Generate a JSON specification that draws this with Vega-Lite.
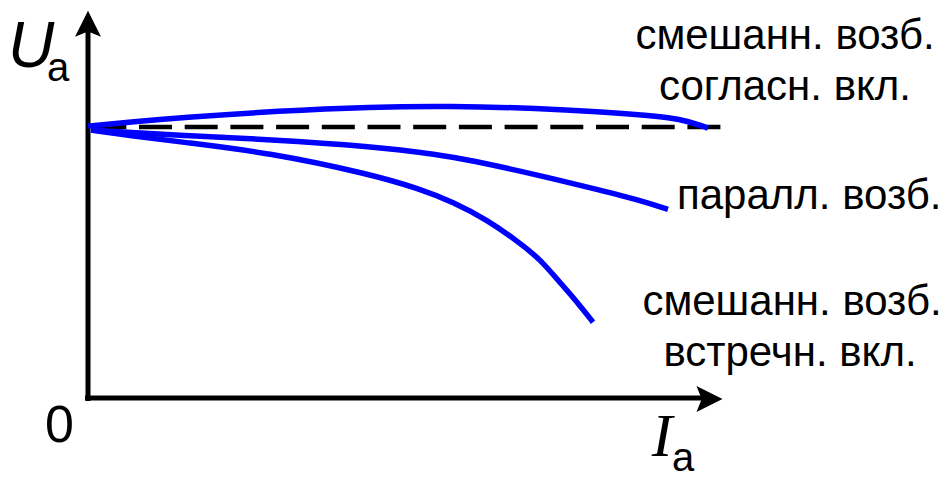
{
  "$schema": "https://vega.github.io/schema/vega-lite/v6.json",
  "width": 947,
  "height": 479,
  "autosize": {"type": "fit", "contains": "padding"},
  "padding": 0,
  "background": "white",
  "config": {"view": {"stroke": null}},
  "datasets": {
    "curves": [
      {"series": "согласн", "I": 0, "U": 276},
      {"series": "согласн", "I": 42, "U": 280},
      {"series": "согласн", "I": 92, "U": 284.5},
      {"series": "согласн", "I": 192, "U": 291.5},
      {"series": "согласн", "I": 282, "U": 295.5},
      {"series": "согласн", "I": 362, "U": 296.5},
      {"series": "согласн", "I": 452, "U": 294},
      {"series": "согласн", "I": 512, "U": 290.5},
      {"series": "согласн", "I": 552, "U": 287.5},
      {"series": "согласн", "I": 582, "U": 284.5},
      {"series": "согласн", "I": 600, "U": 281},
      {"series": "согласн", "I": 620, "U": 274},
      {"series": "паралл", "I": 3, "U": 272},
      {"series": "паралл", "I": 92, "U": 266.5},
      {"series": "паралл", "I": 182, "U": 262.5},
      {"series": "паралл", "I": 282, "U": 255.7},
      {"series": "паралл", "I": 352, "U": 247},
      {"series": "паралл", "I": 382, "U": 241.5},
      {"series": "паралл", "I": 452, "U": 226},
      {"series": "паралл", "I": 512, "U": 211},
      {"series": "паралл", "I": 552, "U": 200.7},
      {"series": "паралл", "I": 580, "U": 191.5},
      {"series": "встречн", "I": 3, "U": 272},
      {"series": "встречн", "I": 42, "U": 266.5},
      {"series": "встречн", "I": 92, "U": 260},
      {"series": "встречн", "I": 182, "U": 249},
      {"series": "встречн", "I": 282, "U": 227.3},
      {"series": "встречн", "I": 332, "U": 212.3},
      {"series": "встречн", "I": 365, "U": 199},
      {"series": "встречн", "I": 399, "U": 181},
      {"series": "встречн", "I": 432, "U": 157.3},
      {"series": "встречн", "I": 452, "U": 141},
      {"series": "встречн", "I": 472, "U": 117.3},
      {"series": "встречн", "I": 492, "U": 94},
      {"series": "встречн", "I": 505, "U": 77}
    ],
    "nominal": [
      {"I": 0, "U": 275},
      {"I": 633, "U": 275}
    ],
    "axes": [
      {"axis": "I", "I": -3, "U": 0},
      {"axis": "I", "I": 617, "U": 0},
      {"axis": "U", "I": 0, "U": -3},
      {"axis": "U", "I": 0, "U": 378}
    ],
    "labels": [
      {"text": "смешанн. возб.", "I": 697, "U": 354.7},
      {"text": "согласн. вкл.", "I": 697, "U": 302.3},
      {"text": "смешанн. возб.", "I": 704, "U": 84},
      {"text": "встречн. вкл.", "I": 702, "U": 32.3}
    ]
  },
  "encoding": {
    "x": {"field": "I", "type": "quantitative", "axis": null,
          "scale": {"domain": [-88, 859], "nice": false, "zero": false}},
    "y": {"field": "U", "type": "quantitative", "axis": null,
          "scale": {"domain": [-75, 404], "nice": false, "zero": false}}
  },
  "layer": [
    {
      "data": {"name": "nominal"},
      "mark": {"type": "line", "color": "black", "strokeWidth": 4.5,
               "strokeDash": [33, 12.7], "strokeDashOffset": 40.4, "strokeCap": "butt"},
      "encoding": {}
    },
    {
      "data": {"name": "axes"},
      "mark": {"type": "line", "color": "black", "strokeWidth": 5, "strokeCap": "butt"},
      "encoding": {"detail": {"field": "axis", "type": "nominal"}}
    },
    {
      "data": {"values": [{"I": 0, "U": 380}]},
      "mark": {"type": "point", "shape": "M0,-1L1,1L0,0.6L-1,1Z", "size": 676,
               "filled": true, "color": "black", "opacity": 1, "strokeWidth": 0}
    },
    {
      "data": {"values": [{"I": 621.5, "U": -1}]},
      "mark": {"type": "point", "shape": "M1,0L-1,1L-0.6,0L-1,-1Z", "size": 676,
               "filled": true, "color": "black", "opacity": 1, "strokeWidth": 0}
    },
    {
      "data": {"name": "curves"},
      "mark": {"type": "line", "color": "#0000ff", "strokeWidth": 5.5,
               "interpolate": "basis", "strokeCap": "butt"},
      "encoding": {"detail": {"field": "series", "type": "nominal"}}
    },
    {
      "data": {"name": "labels"},
      "mark": {"type": "text", "font": "Liberation Sans", "fontSize": 42,
               "align": "center", "baseline": "alphabetic", "color": "black"},
      "encoding": {"text": {"field": "text"}}
    },
    {
      "data": {"values": [{"text": "паралл. возб.", "I": 589, "U": 191.7}]},
      "mark": {"type": "text", "font": "Liberation Sans", "fontSize": 42,
               "align": "left", "baseline": "alphabetic", "color": "black"},
      "encoding": {"text": {"field": "text"}}
    },
    {
      "data": {"values": [{"text": "0", "I": -28.5, "U": -45}]},
      "mark": {"type": "text", "font": "Liberation Sans", "fontSize": 52,
               "align": "center", "baseline": "alphabetic", "color": "black"},
      "encoding": {"text": {"field": "text"}}
    },
    {
      "data": {"values": [{"text": "U", "I": -80, "U": 336}]},
      "mark": {"type": "text", "font": "Liberation Sans", "fontSize": 64, "fontStyle": "italic",
               "align": "left", "baseline": "alphabetic", "color": "black"},
      "encoding": {"text": {"field": "text"}}
    },
    {
      "data": {"values": [{"text": "a", "I": -41, "U": 322}, {"text": "a", "I": 584, "U": -74}]},
      "mark": {"type": "text", "font": "Liberation Sans", "fontSize": 40,
               "align": "left", "baseline": "alphabetic", "color": "black"},
      "encoding": {"text": {"field": "text"}}
    },
    {
      "data": {"values": [{"text": "I", "I": 574, "U": -59}]},
      "mark": {"type": "text", "font": "Liberation Serif", "fontSize": 62, "fontStyle": "italic",
               "align": "center", "baseline": "alphabetic", "color": "black"},
      "encoding": {"text": {"field": "text"}}
    }
  ]
}
